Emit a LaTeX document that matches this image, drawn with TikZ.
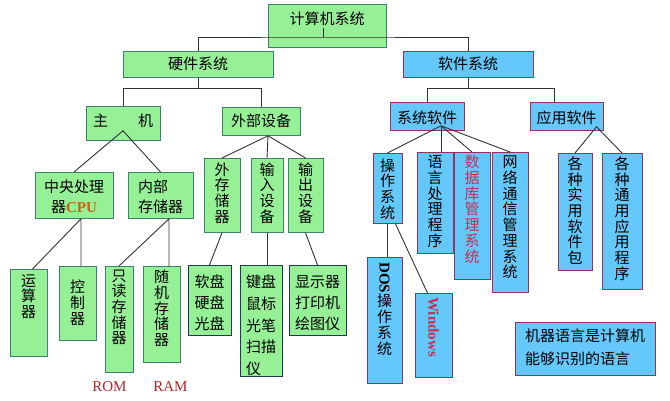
\documentclass[tikz,border=0pt]{standalone}
\usepackage{fontspec}
\usepackage{graphicx}
\usepackage{xcolor}
\usepackage{tikz}
\setmainfont{Noto Sans CJK SC}
\newfontfamily\lat{Liberation Serif}
\definecolor{hwfill}{RGB}{150,240,150}
\definecolor{hwedge}{RGB}{60,130,110}
\definecolor{devedge}{RGB}{25,60,85}
\definecolor{swfill}{RGB}{100,200,250}
\definecolor{swedge}{RGB}{150,50,95}
\definecolor{linecol}{RGB}{50,50,50}
\definecolor{redtext}{RGB}{200,45,85}
\definecolor{cputext}{RGB}{205,95,20}
\definecolor{romtext}{RGB}{175,35,40}

\begin{document}
\begin{tikzpicture}[x=1pt, y=-1pt, font=\fontsize{15pt}{15.7pt}\selectfont,
        hwbox/.style={draw=hwedge, fill=hwfill, line width=0.8pt, inner sep=0pt, align=center, anchor=north},
        devbox/.style={hwbox, draw=devedge},
        swbox/.style={draw=swedge, fill=swfill, line width=0.8pt, inner sep=0pt, align=center, anchor=north},
        link/.style={draw=linecol, line width=0.9pt}]
        \useasboundingbox (0,0) rectangle (670,401);

        \node (root) [hwbox, minimum width=118pt, text height=19.7pt, text depth=23.3pt] at (327,4) {计算机系统};

        \node (hw) [hwbox, minimum width=150pt, text height=17.7pt, text depth=8.3pt] at (198,51) {硬件系统};
        \node (sw) [swbox, minimum width=130pt, text height=17.7pt, text depth=8.3pt] at (468,51) {软件系统};

        \node (zhuji) [hwbox, minimum width=74pt, text height=20.4pt, text depth=13.6pt] at (123,106) {主\hspace{2em}机};
        \node (waibu) [hwbox, minimum width=78pt, text height=18.7pt, text depth=9.3pt] at (261,107) {外部设备};
        \node (xitong) [swbox, minimum width=74pt, text height=20.7pt, text depth=7.3pt] at (427,102) {系统软件};
        \node (yingyong) [swbox, minimum width=73pt, text height=20.7pt, text depth=7.3pt] at (566.5,102) {应用软件};

        \node (cpu) [hwbox, minimum width=78pt, text height=40.4pt, text depth=5.6pt] at (74,172) {中央处理\\[4.3pt]器{\lat\bfseries\color{cputext}CPU}};
        \node (neibu) [hwbox, minimum width=65pt, text height=40.4pt, text depth=5.6pt, align=left] at (160.5,172) {内部\\[4.3pt]存储器};
        \node (wcun) [hwbox, minimum width=36pt, text height=63.8pt, text depth=10.2pt] at (222,158) {外\\存\\储\\器};
        \node (shuru) [hwbox, minimum width=32pt, text height=63.8pt, text depth=10.2pt] at (267,158) {输\\入\\设\\备};
        \node (shuchu) [hwbox, minimum width=35pt, text height=63.8pt, text depth=10.2pt] at (305.5,158) {输\\出\\设\\备};

        \node (yunsuan) [hwbox, minimum width=37pt, text height=48.1pt, text depth=38.9pt] at (28.5,269) {运\\算\\器};
        \node (kongzhi) [hwbox, minimum width=37pt, text height=57.8pt, text depth=16.2pt] at (77.5,266) {控\\制\\器};
        \node (zhidu) [hwbox, minimum width=28pt, text height=77.5pt, text depth=28.5pt] at (119,266) {只\\读\\存\\储\\器};
        \node (suiji) [hwbox, minimum width=37pt, text height=79.2pt, text depth=16.8pt] at (161.5,266) {随\\机\\存\\储\\器};
        \node (ruanpan) [devbox, minimum width=43pt, text height=64.4pt, text depth=5.6pt] at (209.5,265) {软盘\\[5.3pt]硬盘\\[5.3pt]光盘};
        \node (jianpan) [devbox, minimum width=42pt, text height=109.2pt, text depth=1.8pt, align=left] at (261,265) {键盘\\[6pt]鼠标\\[6pt]光笔\\[6pt]扫描\\[6pt]仪};
        \node (xianshi) [devbox, minimum width=57pt, text height=64.4pt, text depth=5.6pt] at (317.5,265) {显示器\\[5.3pt]打印机\\[5.3pt]绘图仪};

        \node (rom) [text=romtext, font=\lat\fontsize{15pt}{16pt}\selectfont] at (109.5,387) {ROM};
        \node (ram) [text=romtext, font=\lat\fontsize{15pt}{16pt}\selectfont] at (170.5,387) {RAM};

        \node (caozuo) [swbox, minimum width=29pt, text height=64.8pt, text depth=5.2pt] at (387.5,153) {操\\作\\系\\统};
        \node (yuyan) [swbox, minimum width=36pt, text height=93.9pt, text depth=7.1pt] at (435,152) {语\\言\\处\\理\\程\\序};
        \node (shuju) [swbox, minimum width=36pt, text height=109.6pt, text depth=17.4pt, text=redtext] at (472,152) {数\\据\\库\\管\\理\\系\\统};
        \node (wangluo) [swbox, minimum width=36pt, text height=125.3pt, text depth=14.7pt] at (510,152) {网\\络\\通\\信\\管\\理\\系\\统};
        \node (gz1) [swbox, minimum width=34pt, text height=110.2pt, text depth=6.8pt] at (575,153) {各\\种\\实\\用\\软\\件\\包};
        \node (gz2) [swbox, minimum width=40pt, text height=125.9pt, text depth=10.1pt] at (622,153) {各\\种\\通\\用\\应\\用\\程\\序};

        \node (dos) [swbox, minimum width=35pt, text height=96.6pt, text depth=29.4pt] at (384.5,257) {\rotatebox{-90}{\lat\bfseries DOS}\\操\\作\\系\\统};
        \node (windows) [swbox, minimum width=37pt, text height=3.7pt, text depth=80.3pt, text=redtext] at (433.5,293) {\rotatebox{-90}{\lat\bfseries Windows}};

        \node (note) [swbox, minimum width=140pt, text height=42pt, text depth=11pt, align=left] at (585,322) {机器语言是计算机\\[7.6pt]能够识别的语言};

        \coordinate (roottip) at (323,28);
        \coordinate (rootbus) at (323,37);
        \coordinate (hwbus) at ([yshift=-11pt]hw.south);
        \coordinate (swbus) at ([yshift=-11pt]sw.south);
        \coordinate (zjtip) at ([yshift=10pt]zhuji.south);
        \coordinate (wbtip) at ([xshift=7pt]waibu.south);
        \coordinate (xttip) at ([xshift=14pt, yshift=5pt]xitong.south);
        \coordinate (yytip) at ([xshift=30pt, yshift=4pt]yingyong.south);
        \coordinate (cputip) at ([xshift=7pt]cpu.south);
        \coordinate (neitip) at ([xshift=8.5pt]neibu.south);

        \draw[link] (roottip) -- (rootbus);
        \draw[link] (hw.north) |- (rootbus) -| (sw.north);

        \draw[link] (hw.south) -- (hwbus);
        \draw[link] (zhuji.north) |- (hwbus) -| (waibu.north);
        \draw[link] (sw.south) -- (swbus);
        \draw[link] (xitong.north) |- (swbus) -| ([xshift=-12pt]yingyong.north);

        \draw[link] (cpu.north) -- (zjtip) -- (neibu.north);
        \draw[link] (wcun.north) -- (wbtip) -- (shuchu.north);
        \draw[link] (wbtip) -- (shuru.north);

        \draw[link] (caozuo.north) -- (xttip) -- (wangluo.north);
        \draw[link] (xttip) -- (shuju.north);
        \draw[link] (xttip) -- (xttip |- yuyan.north);
        \draw[link] (gz1.north) -- (yytip) -- (gz2.north);

        \draw[link] ([xshift=4pt]yunsuan.north) -- (cputip) -- (cputip |- kongzhi.north);
        \draw[link] (zhidu.north) -- (neitip) -- (neitip |- suiji.north);
        \draw[link] (wcun.south) -- (ruanpan.north);
        \draw[link] (shuru.south) -- (shuru.south |- jianpan.north);
        \draw[link] (shuchu.south) -- (xianshi.north);

        \draw[link] (caozuo.south) -- (caozuo.south |- dos.north);
        \draw[link] ([xshift=8pt]caozuo.south) -- ([xshift=-6pt]windows.north);
    \end{tikzpicture}
\end{document}
